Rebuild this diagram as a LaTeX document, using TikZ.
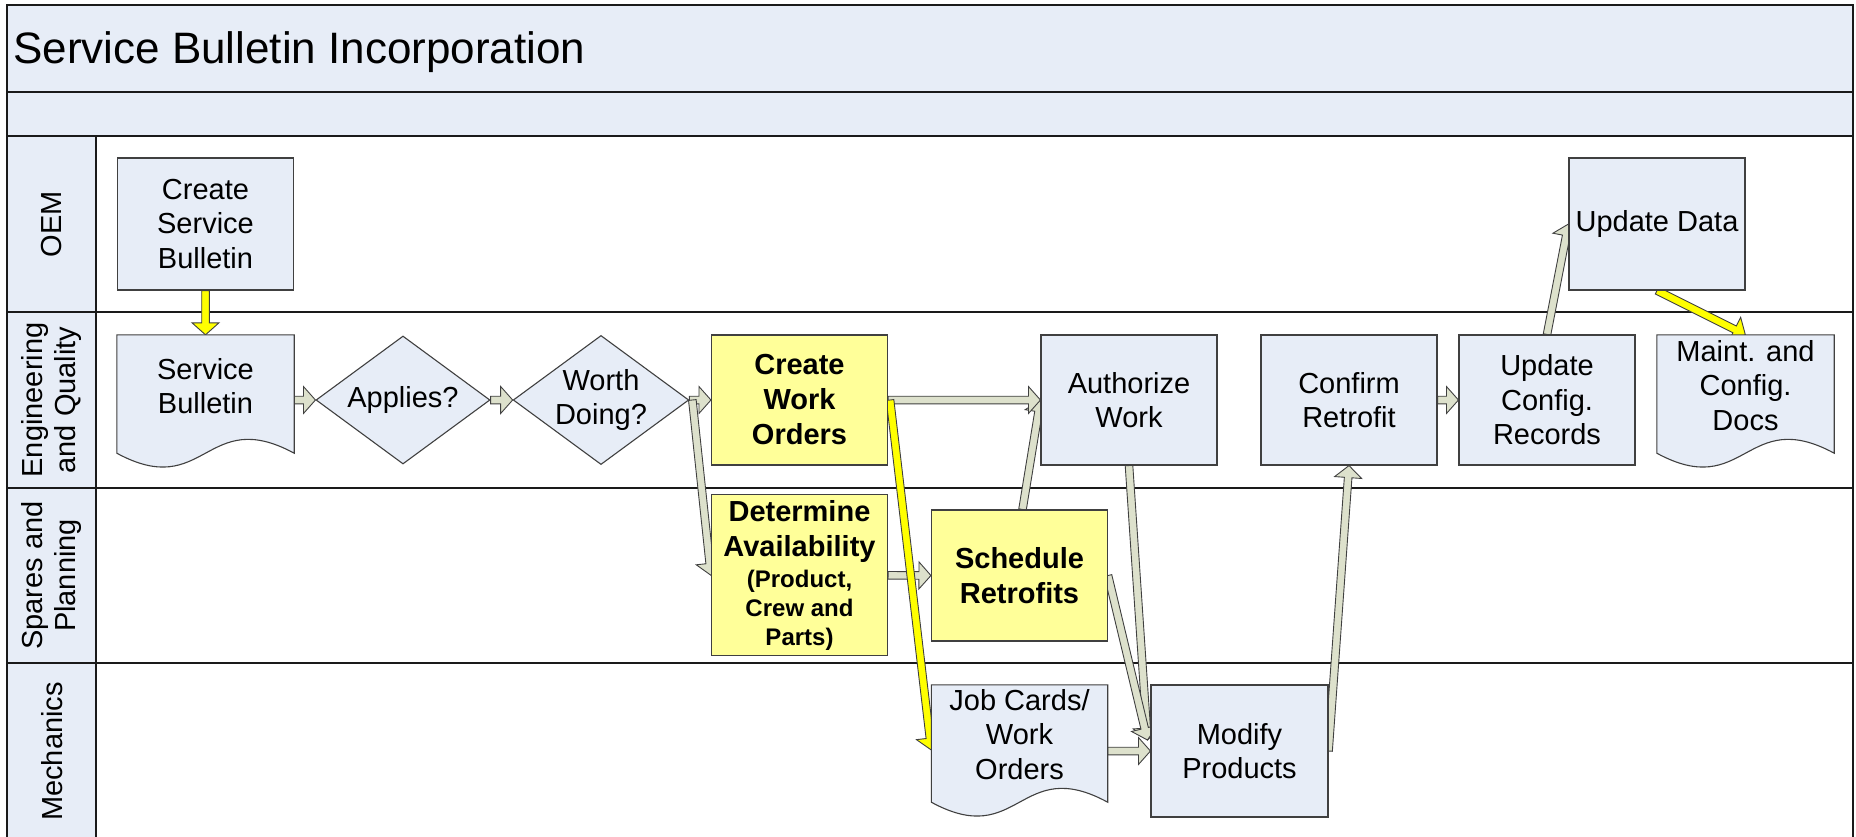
\documentclass[tikz,border=0pt]{standalone}
\usepackage{fontspec}
\setmainfont{Liberation Sans}
\usetikzlibrary{calc,shapes.geometric}
\definecolor{lanefill}{HTML}{E7EDF7}
\definecolor{boxfill}{HTML}{E7EDF7}
\definecolor{yel}{HTML}{FFFF99}
\definecolor{arrg}{HTML}{DDE1CC}
\definecolor{arry}{HTML}{FFFF00}
\definecolor{edge}{HTML}{404040}
\definecolor{lineblk}{HTML}{1A1A1A}

\pgfdeclarelayer{lanes}
\pgfdeclarelayer{arr}
\pgfsetlayers{lanes,arr,main}

\newcommand\fatarrow[3][arrg]{%
  \path let \p1=#2, \p2=#3, \n1={atan2(\y2-\y1,\x2-\x1)}, \n2={veclen(\x2-\x1,\y2-\y1)} in
    \pgfextra{\xdef\FAang{\n1}\xdef\FAlen{\n2}\xdef\FAx{\x1}\xdef\FAy{\y1}};
  \filldraw[fill=#1, draw=edge, line width=0.9pt, line join=miter, shift={(\FAx,\FAy)}, rotate=\FAang]
    (0pt,-3.8pt) -- ({\FAlen-12pt},-3.8pt) -- ({\FAlen-12pt},-13.5pt) -- ({\FAlen},0pt)
    -- ({\FAlen-12pt},13.5pt) -- ({\FAlen-12pt},3.8pt) -- (0pt,3.8pt) -- cycle;
}
\newcommand\docshape[2][boxfill]{%
  \filldraw[fill=#1, draw=edge, line width=1.1pt] (#2.north west) -- (#2.north east) -- (#2.south east)
    .. controls ($(#2.south)+(0,-48)$) and ($(#2.south)+(0,48)$) .. (#2.south west) -- cycle;
}

\tikzset{
  box/.style={draw=edge, line width=1.1pt, fill=boxfill, minimum width=176pt, minimum height=130pt,
    inner sep=2pt, align=center, font=\fontsize{29}{34.5}\selectfont},
  ybox/.style={box, fill=yel, font=\fontsize{29}{35}\selectfont\bfseries},
  ghost/.style={inner sep=0pt, minimum width=177pt},
  txt/.style={align=center, inner sep=0pt, font=\fontsize{29}{34.5}\selectfont},
  dia/.style={diamond, draw=edge, line width=1.1pt, fill=boxfill, aspect=1.36, inner sep=0pt,
    minimum width=174pt, minimum height=128pt, align=center, font=\fontsize{29}{34.5}\selectfont},
  lanelbl/.style={rotate=90, align=center, inner sep=0pt, font=\fontsize{29}{33}\selectfont},
  laneline/.style={draw=lineblk, line width=1.8pt},
}

\begin{document}
\begin{tikzpicture}[x=1pt, y=-1pt]
\useasboundingbox (0,0) rectangle (1856,836);
\begin{pgfonlayer}{lanes}
\fill[white] (0,0) rectangle (1856,836);
\fill[lanefill] (7,5) rectangle (1853,136);
\fill[lanefill] (7,136) rectangle (96,850);
\draw[laneline] (7,92) -- (1853,92);
\draw[laneline] (7,136) -- (1853,136);
\draw[laneline] (7,312) -- (1853,312);
\draw[laneline] (7,488) -- (1853,488);
\draw[laneline] (7,663) -- (1853,663);
\draw[laneline] (96,136) -- (96,850);
\draw[laneline] (7,5) rectangle (1853,850);
\end{pgfonlayer}

\node[anchor=base west, inner sep=0pt, font=\fontsize{44}{50}\selectfont] (title) at (13,63) {Service Bulletin Incorporation};

\node[lanelbl] (l1) at (52,224) {OEM};
\node[lanelbl] (l2) at (52,400) {Engineering\\and Quality};
\node[lanelbl] (l3) at (52,575.5) {Spares and\\Planning};
\node[lanelbl] (l4) at (52,751.5) {Mechanics};

% OEM
\node[box, minimum height=132pt] (csb) at (205.5,224) {Create\\Service\\Bulletin};
\node[box, minimum height=132pt] (ud) at (1657,224) {Update Data};

% Engineering
\node[ghost, minimum height=118pt] (sb) at (205.5,394) {};
\docshape{sb}
\node[txt] (sbt) at ([yshift=8pt]sb.center) {Service\\Bulletin};
\node[dia] (app) at (403,400) {Applies?};
\node[dia] (wd) at (601,400) {Worth\\Doing?};
\node[ybox] (cwo) at (799.5,400) {Create\\Work\\Orders};
\node[box] (aw) at (1129,400) {Authorize\\Work};
\node[box] (cr) at (1349,400) {Confirm\\Retrofit};
\node[box] (ucr) at (1547,400) {Update\\Config.\\Records};
\node[ghost, minimum height=118pt] (mcd) at (1745.5,394) {};
\docshape{mcd}
\node[txt] (mcdt) at ([yshift=8.5pt]mcd.center) {Maint. and\\Config.\\Docs};

% Spares and Planning
\node[ybox, minimum height=161pt] (da) at (799.5,575.3)
  {Determine\\Availability\\[-4pt]\fontsize{24}{28}\selectfont(Product,\\[-6pt]\fontsize{24}{28}\selectfont Crew and\\[-6pt]\fontsize{24}{28}\selectfont Parts)};
\node[ybox, minimum height=131pt] (sr) at (1019.5,575.5) {Schedule\\Retrofits};

% Mechanics
\node[ghost, minimum width=176pt, minimum height=117pt] (jc) at (1019.5,743.5) {};
\docshape{jc}
\node[txt] (jct) at ([yshift=9pt]jc.center) {Job Cards/\\Work\\Orders};
\node[box, minimum height=132pt, minimum width=177pt] (mp) at (1239.5,751) {Modify\\Products};

% connectors (behind the shapes)
\begin{pgfonlayer}{arr}
\fatarrow[arry]{(csb.south)}{(sb.north)}
\fatarrow{(sb.east |- app.west)}{(app.west)}
\fatarrow{(app.east)}{(wd.west)}
\fatarrow{(wd.east)}{(cwo.west)}
\fatarrow{([xshift=3pt]wd.east)}{(da.west)}
\fatarrow{([xshift=3pt]sr.north)}{(aw.west)}
\fatarrow{(cwo.east)}{(aw.west)}
\fatarrow{(da.east)}{(sr.west)}
\fatarrow{(aw.south)}{([xshift=-3pt,yshift=11pt]mp.west)}
\fatarrow{(sr.east)}{([xshift=-3pt,yshift=11pt]mp.west)}
\fatarrow{(jc.east |- mp.west)}{(mp.west)}
\fatarrow{(mp.east)}{(cr.south)}
\fatarrow{(cr.east)}{(ucr.west)}
\fatarrow{(ucr.north)}{(ud.west)}
\fatarrow[arry]{([xshift=2pt]cwo.east)}{([yshift=-6.5pt]jc.west)}
\fatarrow[arry]{(ud.south)}{(mcd.north)}
\end{pgfonlayer}
\end{tikzpicture}
\end{document}
